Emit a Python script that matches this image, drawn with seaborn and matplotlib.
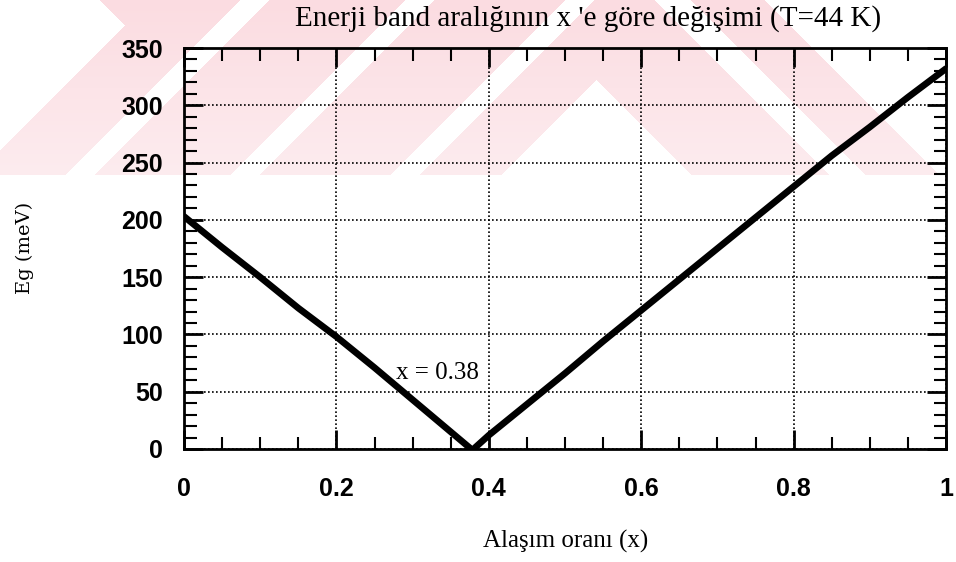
import numpy as np
import pandas as pd
import matplotlib
matplotlib.use("Agg")
import matplotlib.pyplot as plt
import seaborn as sns
from matplotlib.ticker import FixedLocator, MultipleLocator

# Band gap vs. alloy fraction at T = 44 K (two branches meeting at x ~ 0.38)
x_left = [0.0, 0.05, 0.10, 0.15, 0.20, 0.25, 0.30, 0.35, 0.375]
eg_left = [203, 176, 150, 123, 98, 71, 43, 15, 1]
x_right = [0.38, 0.40, 0.45, 0.50, 0.55, 0.60, 0.65, 0.70, 0.75,
           0.80, 0.85, 0.90, 0.95, 1.00]
eg_right = [0, 12, 39, 66, 94, 121, 148, 175, 202, 229, 256, 281, 307, 332]

x_ticks = [0, 0.2, 0.4, 0.6, 0.8, 1.0]
x_tick_labels = ["0", "0.2", "0.4", "0.6", "0.8", "1"]
y_ticks = [0, 50, 100, 150, 200, 250, 300, 350]

title = "Enerji band aralığının x 'e göre değişimi (T=44 K)"
x_label = "Alaşım oranı (x)"
y_label = "Eg (meV)"
note = "x = 0.38"
note_x, note_y = 0.278, 66

sns.set_theme(style="white")
plt.rcParams["font.family"] = ["Liberation Sans", "DejaVu Sans"]
SERIF = ["Liberation Serif", "DejaVu Serif"]

W, H, DPI = 956, 562, 100
fig = plt.figure(figsize=(W / DPI, H / DPI), dpi=DPI, facecolor="white")

# faint pink striped band across the top of the page
bg = fig.add_axes([0, 0, 1, 1], zorder=-5)
bg.set_axis_off()
Y, X = np.mgrid[0:H, 0:W].astype(float)
band_h = 175.0
t = np.clip(Y / band_h, 0, 1)[..., None]
top_c = np.array([251, 220, 225]) / 255
bot_c = np.array([253, 236, 239]) / 255
pink = top_c * (1 - t) + bot_c * t
s = X + Y
d = X - Y
white = Y >= band_h
white |= (s < 150) & (d < 100)
for lo, hi in [(240, 268), (405, 433), (565, 593)]:
    white |= (s >= lo) & (s <= hi)
white |= (s >= 676) & (d <= 516)
white |= (d >= 655) & (d <= 690)
white |= d >= 765
img = np.where(white[..., None], 1.0, pink)
bg.imshow(img, extent=(0, W, H, 0), aspect="auto", interpolation="bilinear")
bg.set_xlim(0, W)
bg.set_ylim(H, 0)

ax = fig.add_axes([184 / W, 1 - 449 / H, (946 - 184) / W, (449 - 48) / H])
ax.set_facecolor("none")

df = pd.DataFrame({
    "x": x_left + x_right,
    "Eg": eg_left + eg_right,
    "branch": ["left"] * len(x_left) + ["right"] * len(x_right),
})
sns.lineplot(data=df, x="x", y="Eg", units="branch", estimator=None,
             color="black", linewidth=4.8, ax=ax, legend=False)
for ln in ax.lines:
    ln.set_solid_capstyle("round")
    ln.set_solid_joinstyle("round")

ax.set_xlim(0, 1)
ax.set_ylim(0, 350)
ax.xaxis.set_major_locator(FixedLocator(x_ticks))
ax.set_xticklabels(x_tick_labels, fontweight="bold")
ax.yaxis.set_major_locator(FixedLocator(y_ticks))
ax.set_yticklabels([str(v) for v in y_ticks], fontweight="bold")
ax.xaxis.set_minor_locator(MultipleLocator(0.05))
ax.yaxis.set_minor_locator(MultipleLocator(10))
ax.tick_params(which="both", direction="in", top=True, right=True,
               bottom=True, left=True, color="black")
ax.tick_params(which="major", length=14, width=2, labelsize=18,
               labelcolor="black")
ax.tick_params(which="minor", length=9, width=1.5)
ax.tick_params(axis="x", which="major", pad=20)
ax.tick_params(axis="y", which="major", pad=15)
ax.set_xlabel("")
ax.set_ylabel("")

ax.grid(True, which="major", color="black", linestyle=(0, (1, 1.4)),
        linewidth=1.2)
for sp in ax.spines.values():
    sp.set_visible(True)
    sp.set_color("black")
    sp.set_linewidth(2)

ax.text(note_x, note_y, note, ha="left", va="center", fontsize=18,
        family=SERIF, color="black")

fig.text(588 / W, 1 - 19 / H, title, ha="center", va="center",
         fontsize=21, family=SERIF, color="black")
fig.text(566 / W, 1 - 541 / H, x_label, ha="center", va="center",
         fontsize=18, family=SERIF, color="black")
fig.text(25 / W, 1 - 248 / H, y_label, ha="center", va="center",
         rotation=90, fontsize=14, family=["DejaVu Serif"], color="black")

fig.savefig("out.png", dpi=DPI, facecolor="white")
